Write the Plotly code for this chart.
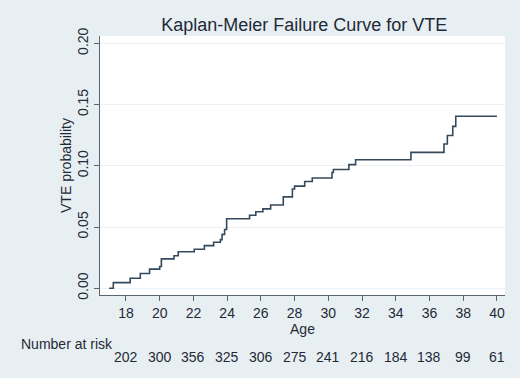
import plotly.graph_objects as go

# Kaplan-Meier failure step data (age, cumulative VTE probability)
ages = [17.0, 17.25, 18.25, 18.85, 19.4, 20.0, 20.1, 20.85, 21.1, 22.05, 22.65, 23.2,
        23.6, 23.7, 23.85, 23.97, 25.33, 25.7, 26.12, 26.58, 27.33, 27.87, 28.0, 28.6,
        29.05, 30.22, 30.3, 31.22, 31.62, 34.9, 36.86, 37.06, 37.38, 37.56, 40.0]
probs = [0.0, 0.0046, 0.0082, 0.012, 0.0156, 0.0178, 0.024, 0.0266, 0.0298, 0.0319,
         0.0348, 0.0376, 0.0397, 0.044, 0.048, 0.0568, 0.0596, 0.0625, 0.0648, 0.068,
         0.0746, 0.081, 0.0834, 0.0872, 0.090, 0.0945, 0.097, 0.101, 0.105, 0.111,
         0.1178, 0.1247, 0.1322, 0.1405, 0.1405]

x_ticks = [18, 20, 22, 24, 26, 28, 30, 32, 34, 36, 38, 40]
y_ticks = [0.0, 0.05, 0.10, 0.15, 0.20]
y_tick_labels = ["0.00", "0.05", "0.10", "0.15", "0.20"]
at_risk = [202, 300, 356, 325, 306, 275, 241, 216, 184, 138, 99, 61]

BG = "#e8eff3"
TXT = "#1f2a36"
FONT = "Liberation Sans, Arial, sans-serif"

fig = go.Figure()
fig.add_trace(go.Scatter(
    x=ages, y=probs, mode="lines", line=dict(shape="hv", color="#34495c", width=1.6),
    showlegend=False, hoverinfo="skip"))

fig.update_layout(
    width=520, height=378,
    margin=dict(l=100, r=15, t=36, b=83),
    paper_bgcolor=BG, plot_bgcolor="white",
    font=dict(family=FONT, color=TXT, size=14),
    title=dict(text="Kaplan-Meier Failure Curve for VTE", x=0.585, xanchor="center",
               y=0.935, yanchor="middle", font=dict(size=18, color=TXT, family=FONT)),
    xaxis=dict(range=[16.46, 40.48], tickvals=x_ticks, ticks="outside", ticklen=5,
               tickcolor="#5a6570", showline=True, linecolor="#5a6570", linewidth=1,
               showgrid=False, zeroline=False, tickfont=dict(size=14),
               title=dict(text="Age", font=dict(size=14), standoff=0)),
    yaxis=dict(range=[-0.0055, 0.206], tickvals=y_ticks, ticktext=y_tick_labels,
               tickangle=-90, ticks="outside", ticklen=5, tickcolor="#5a6570",
               showline=True, linecolor="#5a6570", linewidth=1,
               showgrid=True, gridcolor="#edf1f3", gridwidth=1, zeroline=False,
               tickfont=dict(size=14),
               title=dict(text="VTE probability", font=dict(size=14), standoff=0)),
)

fig.add_annotation(text="Number at risk", xref="paper", yref="paper", x=-0.2, y=-0.19,
                   xanchor="left", yanchor="middle", showarrow=False,
                   font=dict(size=14, color=TXT))
for xv, n in zip(x_ticks, at_risk):
    fig.add_annotation(text=str(n), xref="x", yref="paper", x=xv, y=-0.24,
                       xanchor="center", yanchor="middle", showarrow=False,
                       font=dict(size=14, color=TXT))

fig.write_html("out.html", config={"displayModeBar": False},
               post_script="document.body.style.margin='0';")
